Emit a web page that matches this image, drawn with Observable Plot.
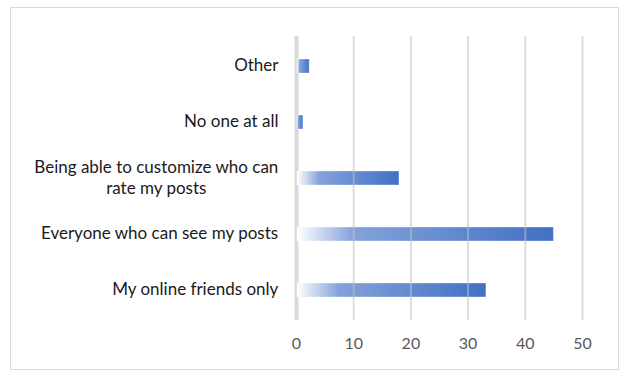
<!DOCTYPE html>
<html>
<head>
<meta charset="utf-8">
<script src="https://cdn.jsdelivr.net/npm/d3@7"></script>
<script src="https://cdn.jsdelivr.net/npm/@observablehq/plot@0.6"></script>
<style>
  html, body { margin: 0; padding: 0; background: #fff; }
  #wrap { position: relative; width: 624px; height: 373px; }
  #border { position: absolute; left: 10px; top: 7px; width: 609px; height: 363px; border: 1px solid #d9d9d9; box-sizing: border-box; pointer-events: none; }
  #chart { position: absolute; left: 0; top: 0; }
</style>
</head>
<body>
<div id="wrap"><div id="chart"></div><div id="border"></div></div>
<script>
const categories = [
  "Other",
  "No one at all",
  "Being able to customize who can\nrate my posts",
  "Everyone who can see my posts",
  "My online friends only"
];
const values = [2.3, 1.2, 18.0, 45.0, 33.2];
const xTicks = [0, 10, 20, 30, 40, 50];

const data = categories.map((c, i) => ({category: c, value: values[i]}));

const FONT = "Lato, 'Open Sans', sans-serif";
const LABEL_SIZE = 17;
const ctx = document.createElement("canvas").getContext("2d");
ctx.font = `${LABEL_SIZE}px Lato`;
const widest = s => Math.max(...s.split("\n").map(l => ctx.measureText(l).width));
const GAP = 18;

const chart = Plot.plot({
  width: 624,
  height: 373,
  marginLeft: 296,
  marginRight: 42,
  marginTop: 36,
  marginBottom: 53,
  style: {fontFamily: FONT, background: "transparent"},
  x: {domain: [0, 50], ticks: xTicks, label: null},
  y: {domain: categories, paddingInner: 0.75, paddingOuter: 0.375, label: null, axis: null},
  marks: [
    Plot.ruleX([0], {stroke: "#d9d9d9", strokeWidth: 4}),
    Plot.barX(data, {x: "value", y: "category", fill: "url(#barGrad)", stroke: "#ffffff", strokeOpacity: 0.35, strokeWidth: 1, insetLeft: 1}),
    Plot.gridX({ticks: xTicks.filter(d => d > 0), stroke: "#bfbfbf", strokeOpacity: 0.55, strokeWidth: 2}),
    Plot.axisX({ticks: xTicks, tickSize: 0, tickPadding: 17, fontSize: 16, label: null, fill: "#595959"}),
    Plot.text(data, {
      x: 0, y: "category", text: "category",
      textAnchor: "middle",
      lineAnchor: "middle",
      lineHeight: 1.25,
      dy: -2,
      fontSize: LABEL_SIZE,
      fill: "#1a1a1a"
    })
  ]
});

// center multi-line labels under their widest line, right edge at GAP from axis
d3.select(chart).selectAll("g[aria-label='text'] text").each(function(d, i) {
  const w = widest(categories[i]);
  const sel = d3.select(this);
  const t = sel.attr("transform") || "";
  sel.attr("transform", t + ` translate(${-(GAP + w / 2)},0)`);
});

const defs = d3.select(chart).insert("defs", ":first-child");
const g = defs.append("linearGradient").attr("id", "barGrad").attr("x1", 0).attr("x2", 1).attr("y1", 0).attr("y2", 0);
g.append("stop").attr("offset", "0%").attr("stop-color", "#ffffff");
g.append("stop").attr("offset", "22%").attr("stop-color", "#84a2da");
g.append("stop").attr("offset", "100%").attr("stop-color", "#4270c3");

document.getElementById("chart").appendChild(chart);
</script>
</body>
</html>
